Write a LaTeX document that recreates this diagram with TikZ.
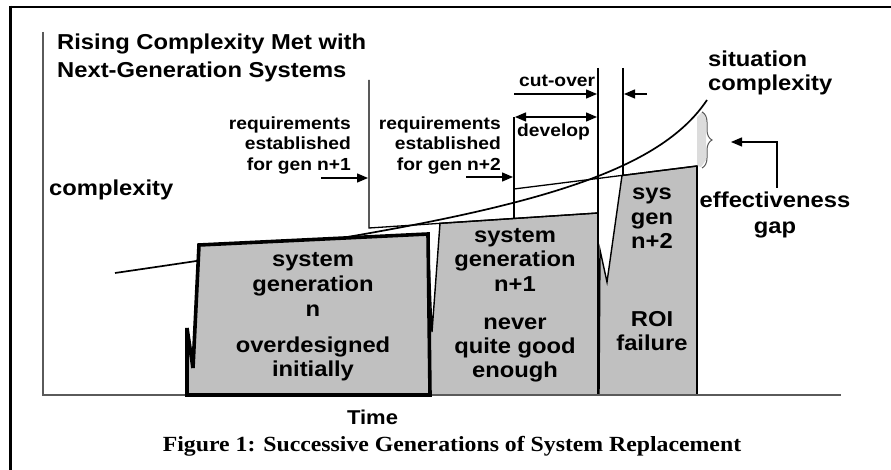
\documentclass[tikz,border=0pt]{standalone}
\usepackage{fontspec}
\setmainfont{Liberation Sans}[FakeStretch=1.1]
\newfontfamily\capfont{Liberation Serif}[FakeStretch=1.1]
\usetikzlibrary{arrows.meta,decorations.pathreplacing}
\definecolor{boxgray}{HTML}{C0C0C0}
\definecolor{axisgray}{HTML}{5A5A5A}
\definecolor{gapgray}{HTML}{DCDCDC}
\begin{document}
\begin{tikzpicture}[x=1pt,y=-1pt,
  big/.style={inner sep=0pt, font=\fontsize{21.6}{22}\selectfont\bfseries},
  small/.style={inner sep=0pt, font=\fontsize{17.5}{18}\selectfont\bfseries},
  ln/.style={line width=1.3pt},
  arr/.style={ln, -{Triangle[length=11pt,width=9pt]}},
  darr/.style={ln, {Triangle[length=11pt,width=9pt]}-{Triangle[length=11pt,width=9pt]}},
  thinbox/.style={fill=boxgray, draw=black, line width=1.4pt, line join=miter},
  thickbox/.style={fill=boxgray, draw=black, line width=3.6pt, line join=miter, miter limit=3},
  axisline/.style={draw=axisgray, line width=2pt},
  curveline/.style={line width=1.7pt},
  bracestyle/.style={decorate, decoration={brace, amplitude=10pt, aspect=0.5}, draw=black!65, line width=1pt}
]
\useasboundingbox (0,0) rectangle (891,470);
% frame
\draw[line width=2.6pt] (9,7) -- (891,7);
\draw[line width=2.6pt] (10.3,5.7) -- (10.3,470);

% situation complexity curve
\draw[curveline] (115,273) .. controls (465,222) and (647,190) .. (707,100);

% effectiveness gap shading and brace
\fill[gapgray] (697,117) -- (703,111) -- (706,119) -- (706,160) -- (701,167) -- (697,166) -- cycle;
\draw[bracestyle] (702,112) -- (702,168);

% system generation n+2
\filldraw[thinbox] (622,175.5) -- (697,166) -- (697,395) -- (599,395) -- (600,250) -- (607,282) -- cycle;
\draw[line width=2.6pt] (697,166) -- (697,395);

% system generation n+1
\filldraw[thinbox] (440,223.3) -- (598,213) -- (598,395) -- (428,395) -- (428,233) -- (432,332) -- cycle;
\draw[line width=2.6pt] (598,213) -- (598,395);

% axes
\draw[axisline] (43,32) -- (43,395) -- (841,395);

% system generation n
\filldraw[thickbox] (199,245) -- (428,234) -- (430,395) -- (187,395) -- (187,328) -- (193,368) -- cycle;

% requirement and cut-over lines
\draw[ln] (369,80) -- (369,228) -- (598,213);
\draw[ln] (514,117) -- (514,218.5);
\draw[ln] (514,189) -- (697,166);
\draw[ln] (598,68) -- (598,213);
\draw[ln] (623,68) -- (623,175.5);

% arrows
\coordinate (r1s) at (321,178); \coordinate (r1e) at (368,178);
\coordinate (r2s) at (466,177); \coordinate (r2e) at (513,177);
\coordinate (cos) at (514,94);  \coordinate (coe) at (597,94);
\coordinate (cis) at (647,94);  \coordinate (cie) at (624,94);
\coordinate (dvs) at (515,117); \coordinate (dve) at (597,117);
\coordinate (gs) at (777,188);  \coordinate (gc) at (777,142); \coordinate (ge) at (731,142);
\draw[arr] (r1s) -- (r1e);
\draw[arr] (r2s) -- (r2e);
\draw[arr] (cos) -- (coe);
\draw[arr] (cis) -- (cie);
\draw[darr] (dvs) -- (dve);
\draw[arr] (gs) -- (gc) -- (ge);

% texts
\node[big, anchor=base west] (t1) at (57,50) {Rising Complexity Met with};
\node[big, anchor=base west] (t2) at (57,78) {Next-Generation Systems};
\node[big, anchor=base west] (ylab) at (49,196) {complexity};

\node[small, anchor=base east] (ra1) at (351,129.5) {requirements};
\node[small, anchor=base east] (ra2) at (351,150) {established};
\node[small, anchor=base east] (ra3) at (351,170.5) {for gen\hspace{5pt}n+1};
\node[small, anchor=base east] (rb1) at (501,129.5) {requirements};
\node[small, anchor=base east] (rb2) at (501,150) {established};
\node[small, anchor=base east] (rb3) at (501,170.5) {for gen\hspace{5pt}n+2};

\node[small, anchor=base west] (cut) at (519,87) {cut-over};
\node[small, anchor=base west] (dev) at (517,137) {develop};

\node[big, anchor=base west] (s1) at (708,67) {situation};
\node[big, anchor=base west] (s2) at (708,91) {complexity};
\node[big, anchor=base] (e1) at (775,208) {effectiveness};
\node[big, anchor=base] (e2) at (775,234) {gap};

\node[big, anchor=base] (a1) at (313,266) {system};
\node[big, anchor=base] (a2) at (313,291) {generation};
\node[big, anchor=base] (a3) at (313,316) {n};
\node[big, anchor=base] (a4) at (313,352) {overdesigned};
\node[big, anchor=base] (a5) at (313,376) {initially};

\node[big, anchor=base] (b1) at (515,243) {system};
\node[big, anchor=base] (b2) at (515,267) {generation};
\node[big, anchor=base] (b3) at (515,291) {n+1};
\node[big, anchor=base] (b4) at (515,329) {never};
\node[big, anchor=base] (b5) at (515,353) {quite good};
\node[big, anchor=base] (b6) at (515,377) {enough};

\node[big, anchor=base] (c1) at (652,200) {sys};
\node[big, anchor=base] (c2) at (652,224.5) {gen};
\node[big, anchor=base] (c3) at (652,249) {n+2};
\node[big, anchor=base] (c4) at (652,326) {ROI};
\node[big, anchor=base] (c5) at (652,350) {failure};

\node[inner sep=0pt, anchor=base, font=\fontsize{20}{20}\selectfont\bfseries] (time) at (372.5,424) {Time};
\node[inner sep=0pt, anchor=base, font=\capfont\fontsize{21.6}{22}\selectfont\bfseries] (cap) at (452,451) {Figure 1: Successive Generations of System Replacement};
\end{tikzpicture}
\end{document}
